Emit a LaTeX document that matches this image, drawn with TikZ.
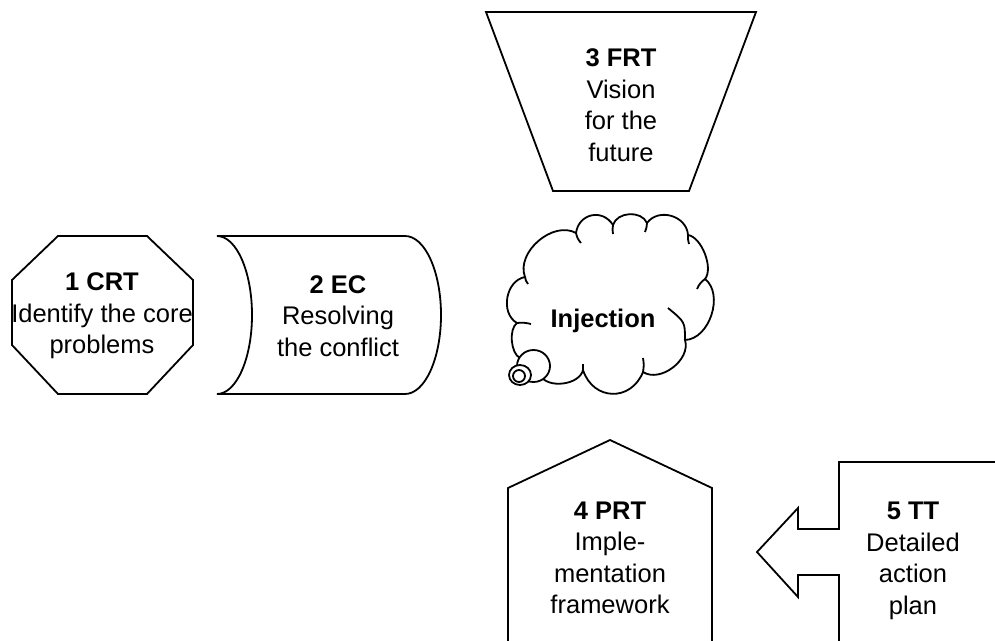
\documentclass[tikz,border=0pt]{standalone}
\usepackage{fontspec}
\setmainfont{Liberation Sans}
\begin{document}
\begin{tikzpicture}[x=1pt,y=-1pt,
  outline/.style={draw=black, line width=1.8pt, line join=miter},
  puffedge/.style={draw=black, line width=1.8pt},
  label/.style={font=\fontsize{25.5}{31.5}\selectfont, align=center, inner sep=0pt},
  puff/.style 2 args={bend left=#1, looseness=#2}]
\useasboundingbox (0,0) rectangle (995,640);
\clip (0,0) rectangle (995,640);

% 1 CRT: octagon
\draw[outline] (58,236) -- (147,236) -- (193,280) -- (193,345) -- (147,394)
  -- (58,394) -- (12,345) -- (12,280) -- cycle;
\node[label] (crt) at (102,316) {\textbf{1 CRT}\\Identify the core\\problems};

% 2 EC: both sides curved to the right
\draw[outline] (217,236) -- (405,236)
  arc[start angle=90, end angle=-90, x radius=36pt, y radius=79pt]
  -- (217,394)
  arc[start angle=-90, end angle=90, x radius=35pt, y radius=79pt] -- cycle;
\node[label] (ec) at (338,316) {\textbf{2 EC}\\Resolving\\the conflict};

% 3 FRT: inverted trapezoid
\draw[outline] (486,12) -- (756,12) -- (689,191) -- (553,191) -- cycle;
\node[label] (frt) at (621,105) {\textbf{3 FRT}\\Vision\\for the\\future};

% Injection: thought cloud
\draw[outline, fill=white] (525,277)
  to[puff={70}{1.0}] (576,233)
  to[puff={70}{1.34}] (613,225)
  to[puff={70}{1.05}] (647,223)
  to[puff={70}{1.16}] (688,235)
  to[puff={60}{0.75}] (705,279)
  to[puff={70}{0.98}] (685,340)
  to[puff={70}{1.0}] (643,372)
  to[puff={70}{1.38}] (583,370)
  to[puff={70}{0.93}] (540,375)
  to[puff={50}{1.0}] (520,358)
  to[puff={60}{0.75}] (517,323)
  to[puff={70}{1.08}] (525,277) -- cycle;
% inner puff edges
\draw[puffedge] (525,277) to[bend right=15] (528,284);
\draw[puffedge] (576,233) to[bend right=15] (581,243);
\draw[puffedge] (613,225) to[bend right=10] (613,234);
\draw[puffedge] (647,223) to[bend left=10] (645,232);
\draw[puffedge] (688,235) to[bend right=10] (689,244);
\draw[puffedge] (705,279) to[bend right=15] (697,289);
\draw[puffedge] (685,340) .. controls (685,322) .. (668,308);
\draw[puffedge] (643,372) to[bend right=10] (643,358);
\draw[puffedge] (583,370) -- (583,364);
\draw[puffedge] (517,323) to[bend left=10] (531,324);
% thought bubbles
\draw[outline, fill=white] (533.5,366) ellipse[x radius=16.5pt, y radius=16pt];
\draw[outline, fill=white] (520,375) ellipse[x radius=11pt, y radius=10pt];
\draw[outline] (519,376) ellipse[x radius=6pt, y radius=6pt];
\node[label] (inj) at (603,321) {\textbf{Injection}};

% 4 PRT: pentagon, open at the bottom
\draw[outline] (508,650) -- (508,488) -- (610,440) -- (712,488) -- (712,650);
\node[label] (prt) at (610,558) {\textbf{4 PRT}\\Imple-\\mentation\\framework};

% 5 TT: left-pointing arrow, open at the right and bottom
\draw[outline] (1005,462) -- (839,462) -- (839,529) -- (798,529) -- (798,508)
  -- (757,552) -- (798,597) -- (798,575) -- (839,575) -- (839,650);
\node[label] (tt) at (913,561) {\textbf{5 TT}\\Detailed\\action\\plan};
\end{tikzpicture}
\end{document}
